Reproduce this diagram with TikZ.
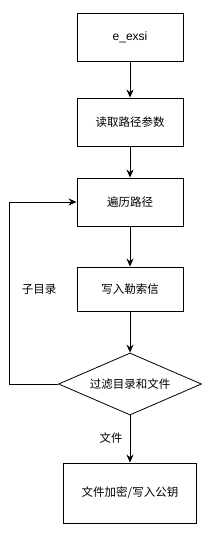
\documentclass[tikz,border=0pt]{standalone}
\usepackage{fontspec}
\setmainfont{Liberation Sans}
\newfontfamily\cjk{Noto Sans CJK SC}
\usetikzlibrary{shapes.geometric,arrows.meta}
\begin{document}
\begin{tikzpicture}[x=1pt,y=-1pt,
  box/.style={draw=black,line width=0.9pt,minimum width=106pt,minimum height=48pt,inner sep=0pt,font=\fontsize{11.5}{13}\selectfont\cjk},
  dia/.style={draw=black,line width=0.8pt,diamond,aspect=2.3,minimum width=143pt,minimum height=62pt,inner sep=0pt,font=\fontsize{11.5}{13}\selectfont\cjk},
  arr/.style={draw=black,line width=0.9pt,-{Stealth[length=8pt,width=7pt]}},
  lbl/.style={font=\fontsize{11.5}{13}\selectfont\cjk}]
\useasboundingbox (0,0) rectangle (214,533);
\node[box,font=\fontsize{12}{14}\selectfont] (b1) at (130,37) {e\_exsi};
\node[box] (b2) at (130,122) {读取路径参数};
\node[box] (b3) at (130,202) {遍历路径};
\node[box,minimum height=44pt] (b4) at (130,289) {写入勒索信};
\node[dia] (d) at (130,384) {过滤目录和文件};
\node[box,minimum width=133pt,minimum height=60pt] (b5) at (130,493) {文件加密/写入公钥};
\coordinate (lb) at (9,384);
\coordinate (lt) at (9,202);
\draw[arr] (b1) -- (b2);
\draw[arr] (b2) -- (b3);
\draw[arr] (b3) -- (b4);
\draw[arr] (b4) -- (d);
\draw[arr] (d) -- (b5);
\draw[arr] (d.west) -- (lb) -- (lt) -- (b3.west);
\node[lbl] (l1) at (39,289) {子目录};
\node[lbl] (l2) at (111,438) {文件};
\end{tikzpicture}
\end{document}
